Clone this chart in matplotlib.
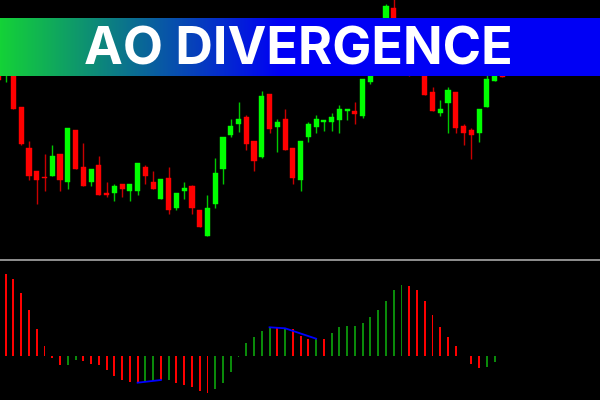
import numpy as np
import matplotlib.pyplot as plt

# candles (index -1 is the half-hidden one at the left edge)
opens  = [240, 228, 240, 193, 152.3, 129, 122.3, 124.3, 146, 117.7, 169.7, 133, 117.7, 135.3, 107.3,
          107.3, 116, 109.3, 109.3, 133, 118, 100.7, 122.3, 92.3, 109.3, 114, 90, 64.3, 96.3, 131,
          165.3, 176.3, 182.7, 159, 143.3, 206, 173.3, 180.7, 152.3, 120, 163, 173.3, 178, 178, 180.3,
          188.7, 189, 184.3, 218.3, 232, 268, 292, 256, 242, 238, 235, 208, 186.7, 197.3, 208,
          174, 169.7, 167.3, 193, 219, 232]
highs  = [245, 255, 245, 193, 159, 129, 146.3, 155, 146, 172, 169.7, 157, 131, 144, 118,
          116.3, 116, 116, 137.3, 135.3, 129, 121.3, 133, 107.3, 118, 115, 90, 105.3, 142, 163,
          180.7, 197.7, 184.7, 159, 208.7, 206, 180.7, 191, 152.3, 159, 178.3, 184.7, 180.3, 187.3, 195.3,
          191, 197.7, 221, 236, 268, 296, 305, 262, 248, 242, 240, 212.7, 200, 212.7, 208,
          176, 172, 191, 225, 236, 236]
lows   = [219, 218.3, 191, 155, 120, 96.3, 109.3, 124.3, 109.3, 111, 131, 114, 113.7, 105.3, 103.3,
          98.7, 103.3, 98.7, 105, 116, 111.3, 100.7, 85.7, 90, 100.7, 85.7, 73.3, 64.3, 92.3, 116,
          163.3, 167.7, 150.3, 129, 141.7, 167.3, 147.7, 150, 115.7, 109.3, 158.3, 167.3, 169.3, 169.3, 167.3,
          180.3, 176, 182.3, 216.3, 228, 262, 250, 236, 224, 227, 205.3, 188.7, 184, 167.3, 167.3,
          154.7, 141.3, 158.3, 193, 219, 223]
closes = [220, 250, 191, 156.3, 124.3, 120.3, 122, 144, 120.3, 172, 131, 114, 131, 105.3, 105,
          114.3, 111, 116, 137.3, 124.3, 111.3, 120.7, 90, 107.3, 112, 92.3, 73.3, 92.3, 126.7, 163,
          174, 180.7, 156.3, 139.3, 204, 171.3, 178.3, 150, 122.3, 159, 176, 180.7, 180.3, 182.7, 191,
          191, 186.3, 221, 232, 262, 294, 255, 240, 228, 230, 205.3, 188.7, 191, 210.3, 171.7,
          167.3, 165, 191, 221, 232, 223]

# awesome oscillator histogram
ao_values = [82, 76.7, 63, 46, 26.7, 10.3, -1.7, -9.3, -9.3, -4,
             -5, -7.7, -9, -14, -20, -23.7, -25.7, -26.7, -26, -25,
             -24, -24, -27.3, -29.3, -31.3, -34.7, -37.3, -33, -27.3, -16,
             -1, 13, 19, 25.3, 28.7, 28.3, 27.7, 26.7, 20, 17,
             17.3, 17, 22.7, 29, 30.3, 30.3, 33, 38.7, 46, 55,
             66, 71, 70.3, 66, 55, 40.7, 29.3, 19, 9.7, 0.4,
             -8.3, -12.3, -10.7, -5.7]
ao_dir = ['dn', 'dn', 'dn', 'dn', 'dn', 'dn', 'dn', 'dn', 'up', 'up',
          'dn', 'dn', 'dn', 'dn', 'dn', 'dn', 'dn', 'dn', 'up', 'up',
          'dn', 'up', 'dn', 'dn', 'dn', 'dn', 'dn', 'up', 'up', 'up',
          'up', 'up', 'up', 'up', 'up', 'dn', 'up', 'dn', 'dn', 'dn',
          'up', 'dn', 'up', 'up', 'up', 'up', 'up', 'up', 'up', 'up',
          'up', 'up', 'dn', 'dn', 'dn', 'dn', 'dn', 'dn', 'dn', 'dn',
          'dn', 'dn', 'up', 'up']

# divergence lines drawn on the oscillator
div_x = [[17, 20], [34, 36, 40]]
div_y = [[-26.7, -24.0], [28.7, 27.7, 17.3]]

title = "AO DIVERGENCE"

BULL = '#00ff00'
BEAR = '#ff0000'
XLIM = (-0.735, 76.58)

fig = plt.figure(figsize=(6, 4), dpi=100, facecolor='black')

# price panel
ax = fig.add_axes([0, 141 / 400, 1, 259 / 400])
ax.set_facecolor('black')
x = np.arange(len(opens)) - 1
for i in range(len(opens)):
    o, h, l, c = opens[i], highs[i], lows[i], closes[i]
    col = BULL if c >= o else BEAR
    wick = '#00c800' if c >= o else '#c80000'
    ax.vlines(x[i], l, h, color=wick, lw=1.0, zorder=1)
    ax.bar(x[i], max(abs(c - o), 1.3), bottom=min(o, c), width=0.66,
           color=col, edgecolor=col, lw=0.3, zorder=2)
ax.set_xlim(*XLIM)
ax.set_ylim(41, 300)
ax.axis('off')

# oscillator panel
ax2 = fig.add_axes([0, 0, 1, 139 / 400])
ax2.set_facecolor('black')
xa = np.arange(len(ao_values))
cols = ['#0a8a0a' if d == 'up' else BEAR for d in ao_dir]
ax2.bar(xa, ao_values, width=0.25, color=cols, zorder=2)
for dx, dy in zip(div_x, div_y):
    ax2.plot(dx, dy, color='#0000ff', lw=1.3, zorder=3)
ax2.set_xlim(*XLIM)
ax2.set_ylim(-44, 95)
ax2.axis('off')

# separator between panels
fig.add_artist(plt.Line2D([0, 1], [1 - 259.7 / 400] * 2, transform=fig.transFigure,
                          color='#a8a8a8', lw=1.2))

# gradient banner
axb = fig.add_axes([0, 1 - 75.7 / 400, 1, 58 / 400])
t = np.clip(np.linspace(0, 600, 600) / 280, 0, 1)
green = np.array([20, 210, 55]) / 255
blue = np.array([0, 0, 245]) / 255
grad = green[None, :] * (1 - t[:, None]) + blue[None, :] * t[:, None]
axb.imshow(grad[None, :, :], aspect='auto', extent=[0, 1, 0, 1])
axb.axis('off')
fig.text(298 / 600, 1 - 64.3 / 400, title, color='white', fontsize=37.5,
         fontweight='bold', family=['Inter', 'DejaVu Sans'],
         ha='center', va='baseline')

fig.savefig('out.png', dpi=100, facecolor='black')
